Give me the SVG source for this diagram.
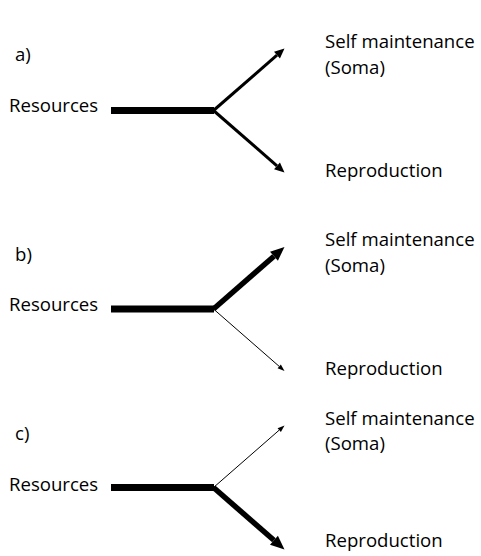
<svg xmlns="http://www.w3.org/2000/svg" width="481" height="556" viewBox="0 0 481 556">
  <style>
    text { font-family: "Open Sans", "Liberation Sans", sans-serif; font-size: 18.6px; fill: #000; }
    .trunk { stroke: #000; stroke-width: 7; fill: none; }
    .br { stroke: #000; fill: none; }
    .w1 { stroke-width: 1; marker-end: url(#hs); }
    .w3 { stroke-width: 3; marker-end: url(#hm); }
    .w5 { stroke-width: 5.5; marker-end: url(#hl); }
  </style>
  <defs>
    <marker id="hs" markerUnits="userSpaceOnUse" markerWidth="8" markerHeight="6" refX="0" refY="3" orient="auto" overflow="visible">
      <path d="M0,0.5 L7,3 L0,5.5 z" fill="#000"/>
    </marker>
    <marker id="hm" markerUnits="userSpaceOnUse" markerWidth="11" markerHeight="10" refX="0" refY="5" orient="auto" overflow="visible">
      <path d="M0,0.5 L10,5 L0,9.5 z" fill="#000"/>
    </marker>
    <marker id="hl" markerUnits="userSpaceOnUse" markerWidth="15" markerHeight="13" refX="0" refY="6.5" orient="auto" overflow="visible">
      <path d="M0,0.5 L14,6.5 L0,12.5 z" fill="#000"/>
    </marker>
  </defs>

  <g id="connectors">
    <line class="trunk" x1="111" y1="110.5" x2="214" y2="110.5"/>
    <path class="br w3" d="M213.5,110.5 L276.97,55.08"/>
    <path class="br w3" d="M213.5,110.5 L276.97,165.92"/>

    <line class="trunk" x1="111" y1="309" x2="214" y2="309"/>
    <path class="br w5" d="M213.5,309 L273.95,256.21"/>
    <path class="br w1" d="M213.5,309 L279.23,366.4"/>

    <line class="trunk" x1="111" y1="487.5" x2="214" y2="487.5"/>
    <path class="br w1" d="M213.5,487.5 L279.23,430.1"/>
    <path class="br w5" d="M213.5,487.5 L273.95,540.29"/>
  </g>

  <g id="panel-a">
    <g id="label-a"><text x="15" y="61">a)</text></g>
    <g id="resources-a"><text x="9" y="112">Resources</text></g>
    <g id="soma-a"><text x="325" y="48">Self maintenance</text><text x="325" y="73.5">(Soma)</text></g>
    <g id="reproduction-a"><text x="325" y="177">Reproduction</text></g>
  </g>

  <g id="panel-b">
    <g id="label-b"><text x="15" y="261">b)</text></g>
    <g id="resources-b"><text x="9" y="311">Resources</text></g>
    <g id="soma-b"><text x="325" y="246">Self maintenance</text><text x="325" y="271.5">(Soma)</text></g>
    <g id="reproduction-b"><text x="325" y="375">Reproduction</text></g>
  </g>

  <g id="panel-c">
    <g id="label-c"><text x="15" y="440">c)</text></g>
    <g id="resources-c"><text x="9" y="491">Resources</text></g>
    <g id="soma-c"><text x="325" y="425">Self maintenance</text><text x="325" y="450">(Soma)</text></g>
    <g id="reproduction-c"><text x="325" y="547">Reproduction</text></g>
  </g>
</svg>
